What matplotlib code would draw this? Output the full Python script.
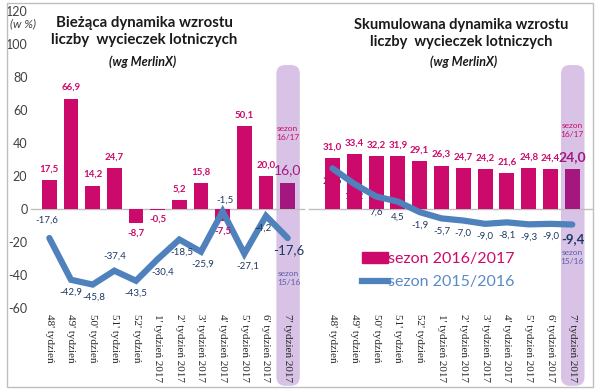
import numpy as np
import matplotlib
matplotlib.use("Agg")
import matplotlib.pyplot as plt
from matplotlib.patches import FancyBboxPatch, Rectangle
from matplotlib.lines import Line2D
import matplotlib.transforms as mtransforms

plt.rcParams['font.family'] = ['Lato', 'DejaVu Sans']

weeks = ["48' tydzień", "49' tydzień", "50' tydzień", "51' tydzień", "52' tydzień",
         "1' tydzień 2017", "2' tydzień 2017", "3' tydzień 2017", "4' tydzień 2017",
         "5' tydzień 2017", "6' tydzień 2017", "7' tydzień 2017"]

cur_1617 = [17.5, 66.9, 14.2, 24.7, -8.7, -0.5, 5.2, 15.8, -7.5, 50.1, 20.0, 16.0]
cur_1516 = [-17.6, -42.9, -45.8, -37.4, -43.5, -30.4, -18.5, -25.9, -1.5, -27.1, -4.2, -17.6]
cum_1617 = [31.0, 33.4, 32.2, 31.9, 29.1, 26.3, 24.7, 24.2, 21.6, 24.8, 24.4, 24.0]
cum_1516 = [24.6, 15.2, 7.6, 4.5, -1.9, -5.7, -7.0, -9.0, -8.1, -9.3, -9.0, -9.4]

yticks = [-60, -40, -20, 0, 20, 40, 60, 80, 100, 120]

MAG = '#CC0A6B'
MAG_LAST = '#A3177F'
BAND = '#D8C3E6'
BLUE = '#4F81BD'
NAVY = '#1F3864'
GRID = '#BFBFBF'

W, H = 600, 392
fig = plt.figure(figsize=(6, 3.92), dpi=100)

# outer frame
fig.add_artist(Rectangle((7 / W, 1 - 387 / H), 586 / W, 384 / H, transform=fig.transFigure,
                         fill=False, edgecolor=GRID, lw=1))

bottom = (H - 308) / H
height = 297 / H
axL = fig.add_axes([38.5 / W, bottom, 260 / W, height])
axR = fig.add_axes([321.6 / W, bottom, 261.6 / W, height])

x = np.arange(len(weeks))


def num(v):
    return f"{v:.1f}".replace('.', ',')


def setup(ax, show_y):
    ax.set_xlim(-0.5, len(weeks) - 0.5)
    ax.set_ylim(-60, 120)
    for s in ax.spines.values():
        s.set_visible(False)
    ax.set_xticks(x)
    ax.set_xticklabels(weeks, rotation=270, fontsize=8, color='#262626',
                       va='top', ha='center', family='Liberation Serif')
    ax.tick_params(axis='x', length=0, pad=4)
    ax.set_yticks(yticks)
    if show_y:
        ax.set_yticklabels([str(t) for t in yticks], fontsize=9, color='#404040')
        ax.tick_params(axis='y', length=0, pad=8)
    else:
        ax.set_yticks([])
    ax.patch.set_alpha(0)
    # highlight band behind last category
    tr = mtransforms.blended_transform_factory(ax.transData, ax.transAxes)
    band = FancyBboxPatch((len(weeks) - 1 - 0.52, -0.262), 1.08, 1.08,
                          boxstyle="round,pad=0,rounding_size=0.4",
                          mutation_aspect=0.074, transform=tr, facecolor=BAND,
                          edgecolor='none', zorder=0, clip_on=False)
    ax.add_patch(band)


setup(axL, True)
setup(axR, False)

for ax, xmin, xmax in [(axL, -0.03, 1.02), (axR, -0.05, 1.035)]:
    ax.axhline(0, xmin=xmin, xmax=xmax, color=GRID, lw=1, zorder=1, clip_on=False)

# ---- left chart ----
colors = [MAG] * (len(weeks) - 1) + [MAG_LAST]
axL.bar(x, cur_1617, width=0.69, color=colors, zorder=2)
axL.plot(x, cur_1516, color=BLUE, lw=4.5, solid_joinstyle='miter', solid_capstyle='round', zorder=3)

for i, v in enumerate(cur_1617[:-1]):
    if v >= 0:
        axL.text(i, v + 4, num(v), ha='center', va='bottom', fontsize=7, color=MAG, fontweight='bold')
    else:
        axL.text(i, v - 3, num(v), ha='center', va='top', fontsize=7, color=MAG, fontweight='bold')
axL.text(11, 16.0 + 4, num(16.0), ha='center', va='bottom', fontsize=10, color=MAG_LAST)
axL.text(11, 41, 'sezon\n16/17', ha='center', va='bottom', fontsize=6, color=MAG, linespacing=1.4)

# line labels: (dx, dy, va)
off = [(-0.1, 8, 'bottom'), (0.0, -5, 'top'), (0.05, -5, 'top'), (0, 6, 'bottom'),
       (0, -5, 'top'), (0.25, -5, 'top'), (0.1, -5, 'top'), (0.1, -5, 'top'),
       (0.1, 4, 'bottom'), (0.15, -5, 'top'), (-0.15, -5, 'top')]
for i, v in enumerate(cur_1516[:-1]):
    dx, dy, va = off[i]
    axL.text(i + dx, v + dy, num(v), ha='center', va=va, fontsize=7, color=NAVY)
axL.text(11.05, -17.6 - 4, num(-17.6), ha='center', va='top', fontsize=9.5, color=NAVY)
axL.text(11.05, -37, 'sezon\n15/16', ha='center', va='top', fontsize=6, color='#5B5EA6', linespacing=1.4)

axL.text(4.4, 117, 'Bieżąca dynamika wzrostu\nliczby  wycieczek lotniczych', ha='center', va='top',
         fontsize=10.8, fontweight='bold', color='#1A1A1A', linespacing=1.3)
axL.text(4.3, 93, '(wg MerlinX)', ha='center', va='top', fontsize=9,
         fontweight='bold', style='italic', color='#1A1A1A')
axL.text(-1.2, 112, '(w %)', ha='center', va='center', fontsize=8.5, style='italic', color='#404040')

# ---- right chart ----
axR.bar(x, cum_1617, width=0.69, color=colors, zorder=2)
axR.plot(x, cum_1516, color=BLUE, lw=4.5, solid_joinstyle='round', solid_capstyle='round', zorder=3)

for i, v in enumerate(cum_1617[:-1]):
    axR.text(i, v + 4, num(v), ha='center', va='bottom', fontsize=7, color=MAG, fontweight='bold')
axR.text(11, 24.0 + 4, num(24.0), ha='center', va='bottom', fontsize=10, color=MAG_LAST, fontweight='bold')
axR.text(11, 43, 'sezon\n16/17', ha='center', va='bottom', fontsize=6, color=MAG, linespacing=1.4)

for i, v in enumerate(cum_1516[:-1]):
    dy = -7 if i in (2, 3) else -5
    axR.text(i, v + dy, num(v), ha='center', va='top', fontsize=7, color=NAVY, zorder=1)
axR.text(11.05, -9.4 - 5, num(-9.4), ha='center', va='top', fontsize=9.5, color=NAVY, fontweight='bold')
axR.text(11, -24, 'sezon\n15/16', ha='center', va='top', fontsize=6, color='#5B5EA6', linespacing=1.4)

axR.text(5.9, 116, 'Skumulowana dynamika wzrostu\nliczby  wycieczek lotniczych', ha='center', va='top',
         fontsize=10.5, fontweight='bold', color='#1A1A1A', linespacing=1.3)
axR.text(6.0, 93, '(wg MerlinX)', ha='center', va='top', fontsize=9,
         fontweight='bold', style='italic', color='#1A1A1A')

# legend
leg_handles = [Rectangle((0, 0), 1, 1, color=MAG), Line2D([], [], color=BLUE, lw=4.5)]
leg = axR.legend(leg_handles, ['sezon 2016/2017', 'sezon 2015/2016'], loc='upper left',
                 bbox_to_anchor=(0.13, 0.21), frameon=False, fontsize=11.5,
                 handlelength=1.6, handletextpad=0.0, labelspacing=0.55, borderaxespad=0)
for t, c in zip(leg.get_texts(), [MAG, '#5A8AC6']):
    t.set_color(c)

fig.savefig('out.png', dpi=100)
